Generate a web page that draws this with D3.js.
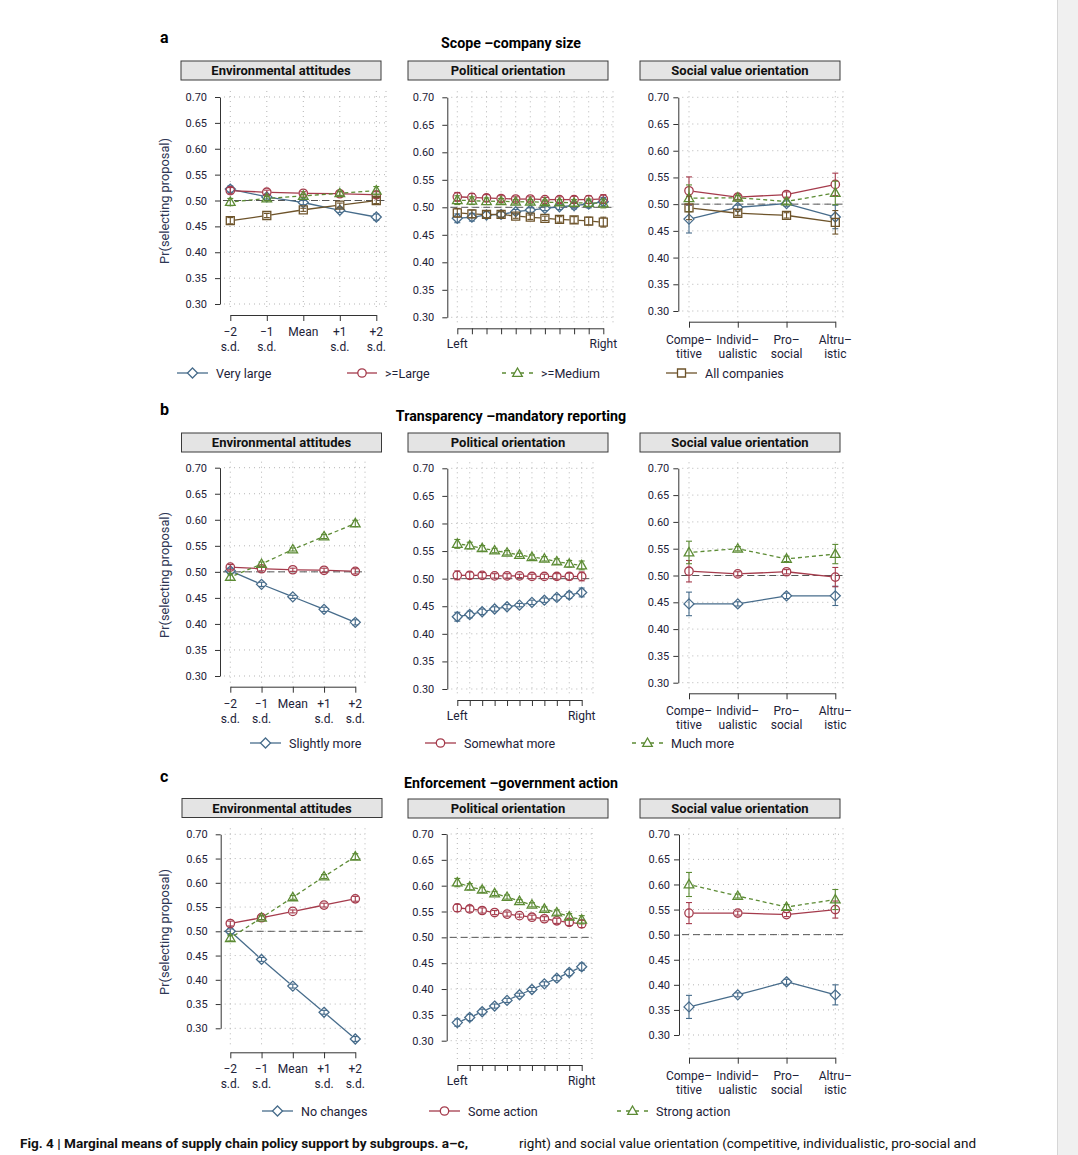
<!DOCTYPE html>
<html>
<head>
<meta charset="utf-8">
<script src="https://cdn.jsdelivr.net/npm/d3@7"></script>
<style>
body { margin: 0; background: #fff; }
svg text { font-family: Roboto, "Liberation Sans", sans-serif; }
</style>
</head>
<body>
<div id="fig"></div>
<script>
const width = 1078;
const height = 1155;

// x categories (| splits the two label lines)
const envLevels = ["−2|s.d.", "−1|s.d.", "Mean|", "+1|s.d.", "+2|s.d."];
const polLevels = ["Left", "", "", "", "", "", "", "", "", "", "Right"];
const svoLevels = ["Compe–|titive", "Individ–|ualistic", "Pro–|social", "Altru–|istic"];

const yTicks = [0.30, 0.35, 0.40, 0.45, 0.50, 0.55, 0.60, 0.65, 0.70];

// a: scope - company size (Very large, >=Large, >=Medium, All companies)
const scopeNames = ["Very large", ">=Large", ">=Medium", "All companies"];
const scopeEnv = [
    [0.522, 0.507, 0.496, 0.481, 0.468],
    [0.519, 0.516, 0.514, 0.513, 0.511],
    [0.497, 0.504, 0.509, 0.514, 0.519],
    [0.461, 0.471, 0.482, 0.491, 0.500]];
const scopeEnvCI = [
    [0.006, 0.004, 0.004, 0.004, 0.006],
    [0.006, 0.004, 0.003, 0.004, 0.006],
    [0.007, 0.004, 0.003, 0.004, 0.008],
    [0.006, 0.004, 0.003, 0.004, 0.006]];
const scopePol = [
    [0.480, 0.482, 0.486, 0.487, 0.492, 0.495, 0.498, 0.501, 0.503, 0.506, 0.510],
    [0.519, 0.518, 0.517, 0.516, 0.515, 0.515, 0.514, 0.514, 0.514, 0.514, 0.515],
    [0.513, 0.512, 0.511, 0.511, 0.510, 0.510, 0.509, 0.509, 0.508, 0.508, 0.507],
    [0.490, 0.488, 0.487, 0.487, 0.484, 0.482, 0.480, 0.478, 0.477, 0.475, 0.473]];
const scopePolCI = [
    [0.008, 0.007, 0.006, 0.005, 0.004, 0.004, 0.004, 0.005, 0.006, 0.007, 0.008],
    [0.008, 0.007, 0.006, 0.005, 0.004, 0.004, 0.004, 0.005, 0.006, 0.007, 0.008],
    [0.008, 0.007, 0.006, 0.005, 0.004, 0.004, 0.004, 0.005, 0.006, 0.007, 0.008],
    [0.008, 0.007, 0.006, 0.005, 0.004, 0.004, 0.004, 0.005, 0.006, 0.007, 0.009]];
const scopeSvo = [
    [0.472, 0.494, 0.501, 0.476],
    [0.525, 0.513, 0.518, 0.537],
    [0.511, 0.512, 0.505, 0.521],
    [0.493, 0.483, 0.479, 0.466]];
const scopeSvoCI = [
    [0.026, 0.004, 0.005, 0.022],
    [0.026, 0.004, 0.005, 0.021],
    [0.025, 0.004, 0.005, 0.022],
    [0.022, 0.004, 0.005, 0.022]];

// b: transparency - mandatory reporting
const transpNames = ["Slightly more", "Somewhat more", "Much more"];
const transpEnv = [
    [0.502, 0.476, 0.452, 0.428, 0.403],
    [0.509, 0.506, 0.504, 0.503, 0.501],
    [0.490, 0.515, 0.543, 0.568, 0.593]];
const transpEnvCI = [
    [0.005, 0.004, 0.003, 0.004, 0.005],
    [0.005, 0.004, 0.003, 0.004, 0.005],
    [0.006, 0.004, 0.003, 0.004, 0.006]];
const transpPol = [
    [0.431, 0.435, 0.440, 0.445, 0.449, 0.452, 0.457, 0.461, 0.466, 0.470, 0.475],
    [0.506, 0.506, 0.506, 0.505, 0.505, 0.505, 0.504, 0.504, 0.504, 0.504, 0.504],
    [0.563, 0.560, 0.555, 0.551, 0.547, 0.543, 0.539, 0.536, 0.531, 0.527, 0.524]];
const transpPolCI = [
    [0.008, 0.006, 0.005, 0.004, 0.004, 0.003, 0.004, 0.004, 0.005, 0.006, 0.008],
    [0.008, 0.006, 0.005, 0.004, 0.004, 0.003, 0.004, 0.004, 0.005, 0.006, 0.008],
    [0.008, 0.006, 0.005, 0.004, 0.004, 0.003, 0.004, 0.004, 0.005, 0.006, 0.008]];
const transpSvo = [
    [0.447, 0.447, 0.462, 0.462],
    [0.508, 0.503, 0.507, 0.497],
    [0.543, 0.550, 0.531, 0.540]];
const transpSvoCI = [
    [0.022, 0.004, 0.005, 0.018],
    [0.020, 0.004, 0.004, 0.018],
    [0.021, 0.004, 0.005, 0.018]];

// c: enforcement - government action
const enforceNames = ["No changes", "Some action", "Strong action"];
const enforceEnv = [
    [0.500, 0.442, 0.387, 0.333, 0.278],
    [0.516, 0.528, 0.541, 0.554, 0.567],
    [0.486, 0.528, 0.570, 0.613, 0.654]];
const enforceEnvCI = [
    [0.005, 0.004, 0.004, 0.004, 0.005],
    [0.005, 0.004, 0.003, 0.004, 0.005],
    [0.006, 0.004, 0.004, 0.004, 0.006]];
const enforcePol = [
    [0.335, 0.345, 0.356, 0.367, 0.378, 0.389, 0.399, 0.410, 0.421, 0.432, 0.443],
    [0.557, 0.555, 0.552, 0.548, 0.545, 0.542, 0.539, 0.536, 0.532, 0.529, 0.526],
    [0.606, 0.598, 0.592, 0.585, 0.578, 0.570, 0.563, 0.555, 0.548, 0.540, 0.534]];
const enforcePolCI = [
    [0.007, 0.006, 0.005, 0.004, 0.004, 0.003, 0.004, 0.004, 0.005, 0.006, 0.007],
    [0.007, 0.006, 0.005, 0.004, 0.004, 0.003, 0.004, 0.004, 0.005, 0.006, 0.007],
    [0.008, 0.006, 0.005, 0.004, 0.004, 0.003, 0.004, 0.004, 0.005, 0.006, 0.008]];
const enforceSvo = [
    [0.356, 0.380, 0.406, 0.380],
    [0.543, 0.543, 0.540, 0.550],
    [0.600, 0.577, 0.555, 0.570]];
const enforceSvoCI = [
    [0.023, 0.004, 0.005, 0.020],
    [0.021, 0.004, 0.004, 0.017],
    [0.024, 0.004, 0.005, 0.020]];

const colors = ["#476c8b", "#a53b4c", "#5c8b34", "#6d532a"];
const shapes = ["diamond", "circle", "triangle", "square"];
const dashed = [false, false, true, false];
const textCol = "#1d2238";

const svg = d3.select('#fig')
    .append('svg')
    .attr('width', width)
    .attr('height', height)

svg.append("rect").attr("x", 1057).attr("y", 0).attr("width", 21).attr("height", height).attr("fill", "#f0f0f0")
svg.append("line").attr("x1", 1057.5).attr("x2", 1057.5).attr("y1", 0).attr("y2", height).attr("stroke", "#d6d6d6")

function marker(shape) {
    if (shape == "diamond") return "M0,-5L5,0L0,5L-5,0Z";
    if (shape == "triangle") return "M0,-5L4.8,3.4L-4.8,3.4Z";
    if (shape == "square") return "M-4,-4H4V4H-4Z";
    return d3.arc()({innerRadius: 0, outerRadius: 4.2, startAngle: 0, endAngle: 2 * Math.PI});
}

// one small panel: header strip, grid, axes, series
function drawSub(lay, title, levels, kind, means, cis) {
    const g = svg.append("g");
    const y = d3.scaleLinear().domain([0.30, 0.70]).range([lay.yb, lay.yt]);
    const x = d3.scalePoint().domain(d3.range(levels.length)).range([lay.x0, lay.x1]);

    g.append("rect")
        .attr("x", lay.hx).attr("y", lay.hy).attr("width", 200).attr("height", 19)
        .attr("fill", "#e4e4e4").attr("stroke", "#3a3a3a").attr("stroke-width", 1)
    g.append("text")
        .attr("x", lay.hx + 100).attr("y", lay.hy + 14.2)
        .attr("text-anchor", "middle").attr("font-size", 13).attr("font-weight", "bold")
        .attr("fill", "#111").text(title)

    // dotted grid
    g.selectAll(".hg").data(yTicks).enter().append("line")
        .attr("x1", lay.ax + 4).attr("x2", lay.gr)
        .attr("y1", d => y(d)).attr("y2", d => y(d))
        .attr("stroke", "#b5b5b5").attr("stroke-dasharray", "1,4")
    g.selectAll(".vg").data(d3.range(levels.length).map(i => x(i)).concat([lay.gr])).enter().append("line")
        .attr("x1", d => d).attr("x2", d => d)
        .attr("y1", lay.yt - 6).attr("y2", lay.xa - 4)
        .attr("stroke", "#b5b5b5").attr("stroke-dasharray", "1,4")

    g.append("line")
        .attr("x1", lay.ax + 3).attr("x2", lay.gr)
        .attr("y1", y(0.5)).attr("y2", y(0.5))
        .attr("stroke", "#555").attr("stroke-dasharray", "7,4")

    const yAx = g.append("g")
        .attr("transform", `translate(${lay.ax},0)`)
        .call(d3.axisLeft(y).tickValues(yTicks).tickFormat(d3.format(".2f"))
            .tickSize(5).tickSizeOuter(0).tickPadding(lay.pad))
    yAx.attr("font-family", null).attr("font-size", 11).attr("color", "#333")
    yAx.selectAll("text").attr("fill", textCol)

    const xAx = g.append("g")
        .attr("transform", `translate(0,${lay.xa})`)
        .call(d3.axisBottom(x).tickSize(6).tickSizeOuter(0).tickFormat(""))
    xAx.attr("color", "#333")

    levels.forEach((lab, i) => {
        const parts = lab.split("|");
        parts.forEach((p, k) => {
            if (!p) return;
            g.append("text")
                .attr("x", x(i)).attr("y", lay.xa + (k == 0 ? lay.l1 : lay.l2))
                .attr("text-anchor", "middle").attr("font-size", 12)
                .attr("fill", textCol).text(p)
        })
    })

    means.forEach((vals, s) => {
        const col = colors[s];
        const pts = vals.map((v, i) => [x(i), y(v)]);
        // line broken around the points, like R type = "b"
        d3.pairs(pts).forEach(([p, q]) => {
            const dx = q[0] - p[0], dy = q[1] - p[1], L = Math.hypot(dx, dy);
            const gp = Math.min(4.5, L / 2 - 0.5);
            g.append("line")
                .attr("x1", p[0] + dx / L * gp).attr("y1", p[1] + dy / L * gp)
                .attr("x2", q[0] - dx / L * gp).attr("y2", q[1] - dy / L * gp)
                .attr("stroke", col).attr("stroke-width", 1.3)
                .attr("stroke-dasharray", dashed[s] ? "4,3" : null)
        })
        const eb = g.append("g").attr("stroke", col).attr("stroke-width", 1.1);
        vals.forEach((v, i) => {
            const lo = y(v - cis[s][i]), hi = y(v + cis[s][i]);
            eb.append("line").attr("x1", x(i)).attr("x2", x(i)).attr("y1", lo).attr("y2", hi)
            eb.append("line").attr("x1", x(i) - 3).attr("x2", x(i) + 3).attr("y1", lo).attr("y2", lo)
            eb.append("line").attr("x1", x(i) - 3).attr("x2", x(i) + 3).attr("y1", hi).attr("y2", hi)
        })
        g.selectAll(null).data(pts).enter().append("path")
            .attr("d", marker(shapes[s]))
            .attr("transform", d => `translate(${d[0]},${d[1]})`)
            .attr("fill", "none").attr("stroke", col).attr("stroke-width", 1.3)
    });
}

function drawRow(row) {
    svg.append("text").attr("x", 160).attr("y", row.letterY)
        .attr("font-size", 16).attr("font-weight", "bold").attr("fill", "#000").text(row.letter)
    svg.append("text").attr("x", 511).attr("y", row.titleY)
        .attr("text-anchor", "middle").attr("font-size", 14.2).attr("font-weight", "bold")
        .attr("fill", "#000").text(row.title)
    svg.append("text")
        .attr("transform", `translate(169,${row.ytitle}) rotate(-90)`)
        .attr("text-anchor", "middle").attr("font-size", 12.8).attr("fill", "#2d3654")
        .text("Pr(selecting proposal)")

    drawSub(row.env, "Environmental attitudes", envLevels, "env", row.data[0], row.data[1])
    drawSub(row.pol, "Political orientation", polLevels, "pol", row.data[2], row.data[3])
    drawSub(row.svo, "Social value orientation", svoLevels, "svo", row.data[4], row.data[5])

    row.names.forEach((name, s) => {
        const [a, b] = row.leg[s];
        const m = (a + b) / 2, ly = row.legY;
        const lg = svg.append("g");
        lg.append("line").attr("x1", a).attr("x2", b).attr("y1", ly).attr("y2", ly)
            .attr("stroke", colors[s]).attr("stroke-width", 1.3)
            .attr("stroke-dasharray", dashed[s] ? "4,5" : null)
        lg.append("path").attr("d", marker(shapes[s]))
            .attr("transform", `translate(${m},${ly})`)
            .attr("fill", "#fff").attr("stroke", colors[s]).attr("stroke-width", 1.3)
        lg.append("text").attr("x", b + 8).attr("y", ly + 4.5)
            .attr("font-size", 12.5).attr("fill", textCol).text(name)
    })
}

const rows = [
    {
        letter: "a", letterY: 43, title: "Scope –company size", titleY: 48, ytitle: 201, legY: 373,
        names: scopeNames,
        leg: [[177, 208], [347, 377], [502, 533], [666, 697]],
        data: [scopeEnv, scopeEnvCI, scopePol, scopePolCI, scopeSvo, scopeSvoCI],
        env: {hx: 181, hy: 61, ax: 220, yt: 97, yb: 304, x0: 230.3, x1: 376.3, xa: 315, gr: 386, pad: 8, l1: 21, l2: 36},
        pol: {hx: 408, hy: 61, ax: 447.3, yt: 97.3, yb: 317.3, x0: 457.3, x1: 603.3, xa: 328.3, gr: 613, pad: 8, l1: 20, l2: 34},
        svo: {hx: 640, hy: 61, ax: 678.3, yt: 97.3, yb: 311, x0: 689, x1: 835.3, xa: 321.7, gr: 843, pad: 4, l1: 22, l2: 36}
    },
    {
        letter: "b", letterY: 415, title: "Transparency –mandatory reporting", titleY: 421, ytitle: 575, legY: 743,
        names: transpNames,
        leg: [[250, 281], [425, 456], [632, 663]],
        data: [transpEnv, transpEnvCI, transpPol, transpPolCI, transpSvo, transpSvoCI],
        env: {hx: 181.5, hy: 433, ax: 220, yt: 467.7, yb: 676, x0: 230.3, x1: 355.3, xa: 686.7, gr: 365, pad: 8, l1: 21, l2: 36},
        pol: {hx: 408, hy: 433, ax: 447.3, yt: 468.3, yb: 689, x0: 457.3, x1: 581.7, xa: 700, gr: 593, pad: 8, l1: 20, l2: 34},
        svo: {hx: 640, hy: 433, ax: 678.3, yt: 468.3, yb: 682.7, x0: 689, x1: 835.3, xa: 693.3, gr: 843, pad: 4, l1: 22, l2: 36}
    },
    {
        letter: "c", letterY: 782, title: "Enforcement –government action", titleY: 788, ytitle: 932, legY: 1111,
        names: enforceNames,
        leg: [[262, 293], [429, 460], [617, 648]],
        data: [enforceEnv, enforceEnvCI, enforcePol, enforcePolCI, enforceSvo, enforceSvoCI],
        env: {hx: 182, hy: 798.5, ax: 220.7, yt: 834.3, yb: 1028.3, x0: 230.3, x1: 355.3, xa: 1052.3, gr: 365, pad: 8, l1: 21, l2: 36},
        pol: {hx: 408, hy: 799, ax: 446.7, yt: 834, yb: 1040.7, x0: 457.3, x1: 581.7, xa: 1065, gr: 592, pad: 8, l1: 20, l2: 34},
        svo: {hx: 640, hy: 799, ax: 679, yt: 834.3, yb: 1035, x0: 689, x1: 835.3, xa: 1057.7, gr: 843, pad: 4, l1: 22, l2: 36}
    }
];

rows.forEach(drawRow)

// caption fragment at the bottom
svg.append("text").attr("x", 20).attr("y", 1148)
    .attr("font-size", 13).attr("font-weight", "bold").attr("fill", "#111")
    .attr("textLength", 448).attr("lengthAdjust", "spacingAndGlyphs")
    .text("Fig. 4 | Marginal means of supply chain policy support by subgroups. a–c,")
svg.append("text").attr("x", 519).attr("y", 1148)
    .attr("font-size", 13).attr("fill", "#111")
    .attr("textLength", 457).attr("lengthAdjust", "spacingAndGlyphs")
    .text("right) and social value orientation (competitive, individualistic, pro-social and")
</script>
</body>
</html>
